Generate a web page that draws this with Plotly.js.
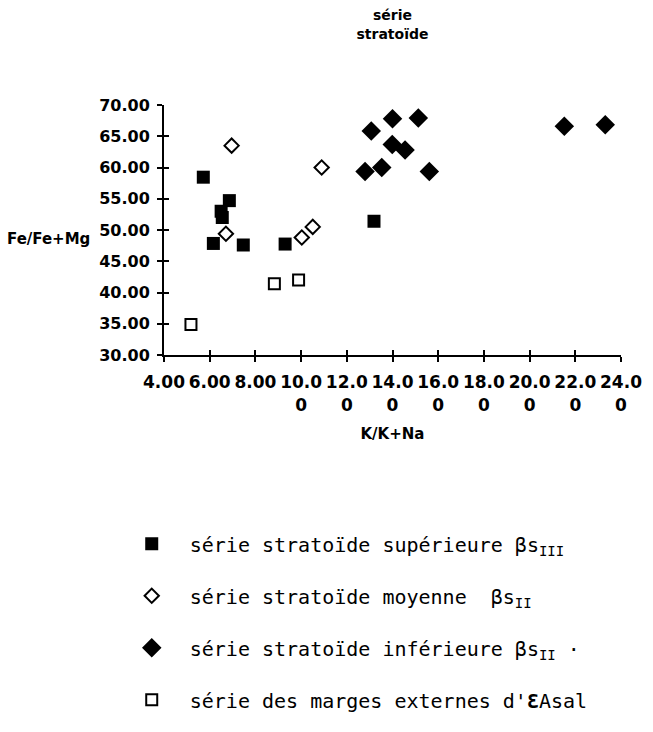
<!DOCTYPE html>
<html><head><meta charset="utf-8">
<script src="https://cdn.plot.ly/plotly-3.0.1.min.js"></script>
<style>html,body{margin:0;padding:0;background:#fff}</style>
</head><body><div id="chart" style="width:653px;height:732px"></div>
<script>
const seriesNames = [
  "série stratoïde supérieure βs<sub>III</sub>",
  "série stratoïde moyenne  βs<sub>II</sub>",
  "série stratoïde inférieure βs<sub>II</sub> ·",
  "série des marges externes d'<b>Ɛ</b>Asal"
];
const supX = [5.72, 6.86, 6.50, 6.55, 6.16, 7.47, 9.30, 13.19];
const supY = [58.45, 54.7, 53.0, 52.0, 47.85, 47.6, 47.75, 51.4];
const moyX = [6.96, 6.71, 10.03, 10.51, 10.9];
const moyY = [63.5, 49.4, 48.8, 50.5, 60.0];
const infX = [13.07, 14.0, 15.13, 13.99, 14.55, 12.8, 13.53, 15.61, 21.52, 23.31];
const infY = [65.85, 67.8, 67.9, 63.7, 62.8, 59.35, 60.0, 59.35, 66.6, 66.85];
const marX = [5.18, 8.83, 9.89];
const marY = [34.9, 41.4, 42.0];
const xTickVals = [4, 6, 8, 10, 12, 14, 16, 18, 20, 22, 24];
const xTickText = ["4.00", "6.00", "8.00", "10.0<br>0", "12.0<br>0", "14.0<br>0", "16.0<br>0", "18.0<br>0", "20.0<br>0", "22.0<br>0", "24.0<br>0"];
const yTickVals = [30, 35, 40, 45, 50, 55, 60, 65, 70];
const yTickText = ["30.00", "35.00", "40.00", "45.00", "50.00", "55.00", "60.00", "65.00", "70.00"];
const titleText = "série<br>stratoïde";
const xTitle = "K/K+Na";
const yTitle = "Fe/Fe+Mg";

const axisFont = {family: "DejaVu Sans", size: 16, color: "#000", weight: "bold"};

const traces = [
  {x: supX, y: supY, name: seriesNames[0], legendgroup: "a", mode: "markers", type: "scatter",
   marker: {symbol: "square", size: 13, color: "#000"}},
  {x: moyX, y: moyY, name: seriesNames[1], legendgroup: "b", mode: "markers", type: "scatter",
   marker: {symbol: "diamond-open", size: 11, color: "#000", line: {width: 2, color: "#000"}}},
  {x: infX, y: infY, name: seriesNames[2], legendgroup: "c", mode: "markers", type: "scatter",
   marker: {symbol: "diamond", size: 15, color: "#000"}},
  {x: marX, y: marY, name: seriesNames[3], legendgroup: "d", mode: "markers", type: "scatter",
   marker: {symbol: "square-open", size: 11, color: "#000", line: {width: 2, color: "#000"}}},
  {x: [], y: [], xaxis: "x2", yaxis: "y2", showlegend: false, hoverinfo: "skip", type: "scatter", mode: "markers"}
];

const layout = {
  width: 653, height: 732,
  margin: {l: 164, r: 32, t: 105, b: 344},
  paper_bgcolor: "#fff", plot_bgcolor: "#fff",
  showlegend: true,
  title: {text: titleText, x: 0.5, xref: "paper", xanchor: "center", yref: "container", y: 0.972, yanchor: "top",
          font: {family: "DejaVu Sans", size: 14, color: "#000", weight: "bold"}},
  xaxis: {range: [4, 24], tickvals: xTickVals, ticktext: xTickText, showgrid: false, zeroline: false,
          showline: true, linecolor: "#000", linewidth: 2, ticks: "outside", ticklen: 5, tickwidth: 2, tickcolor: "#000",
          tickfont: {family: "DejaVu Sans", size: 17, color: "#000", weight: "bold"}, ticklabelstandoff: 6,
          title: {text: xTitle, standoff: 15, font: {family: "DejaVu Sans", size: 15, color: "#000", weight: "bold"}}},
  yaxis: {range: [30, 70], tickvals: yTickVals, ticktext: yTickText, showgrid: false, zeroline: false,
          showline: true, linecolor: "#000", linewidth: 2, ticks: "outside", ticklen: 5, tickwidth: 2, tickcolor: "#000",
          tickfont: axisFont, ticklabelstandoff: 4},
  xaxis2: {range: [4, 24], overlaying: "x", anchor: "y2", tickvals: xTickVals, showticklabels: false, showgrid: false,
           zeroline: false, showline: false, ticks: "inside", ticklen: 5, tickwidth: 2, tickcolor: "#000"},
  yaxis2: {range: [30, 70], overlaying: "y", anchor: "x2", tickvals: yTickVals, showticklabels: false, showgrid: false,
           zeroline: false, showline: false, ticks: "inside", ticklen: 5, tickwidth: 2, tickcolor: "#000"},
  legend: {x: -0.11, xanchor: "left", y: -0.677, yanchor: "top", traceorder: "grouped", tracegroupgap: 23,
           itemwidth: 66, font: {family: "DejaVu Sans Mono", size: 20, color: "#000"}, bgcolor: "rgba(0,0,0,0)"},
  annotations: [
    {text: yTitle, xref: "paper", yref: "paper", x: -0.348, xanchor: "left", y: 0.463, yanchor: "middle",
     showarrow: false, font: {family: "DejaVu Sans", size: 15, color: "#000", weight: "bold"}}
  ]
};

Plotly.newPlot("chart", traces, layout, {displayModeBar: false, staticPlot: true});
</script></body></html>
